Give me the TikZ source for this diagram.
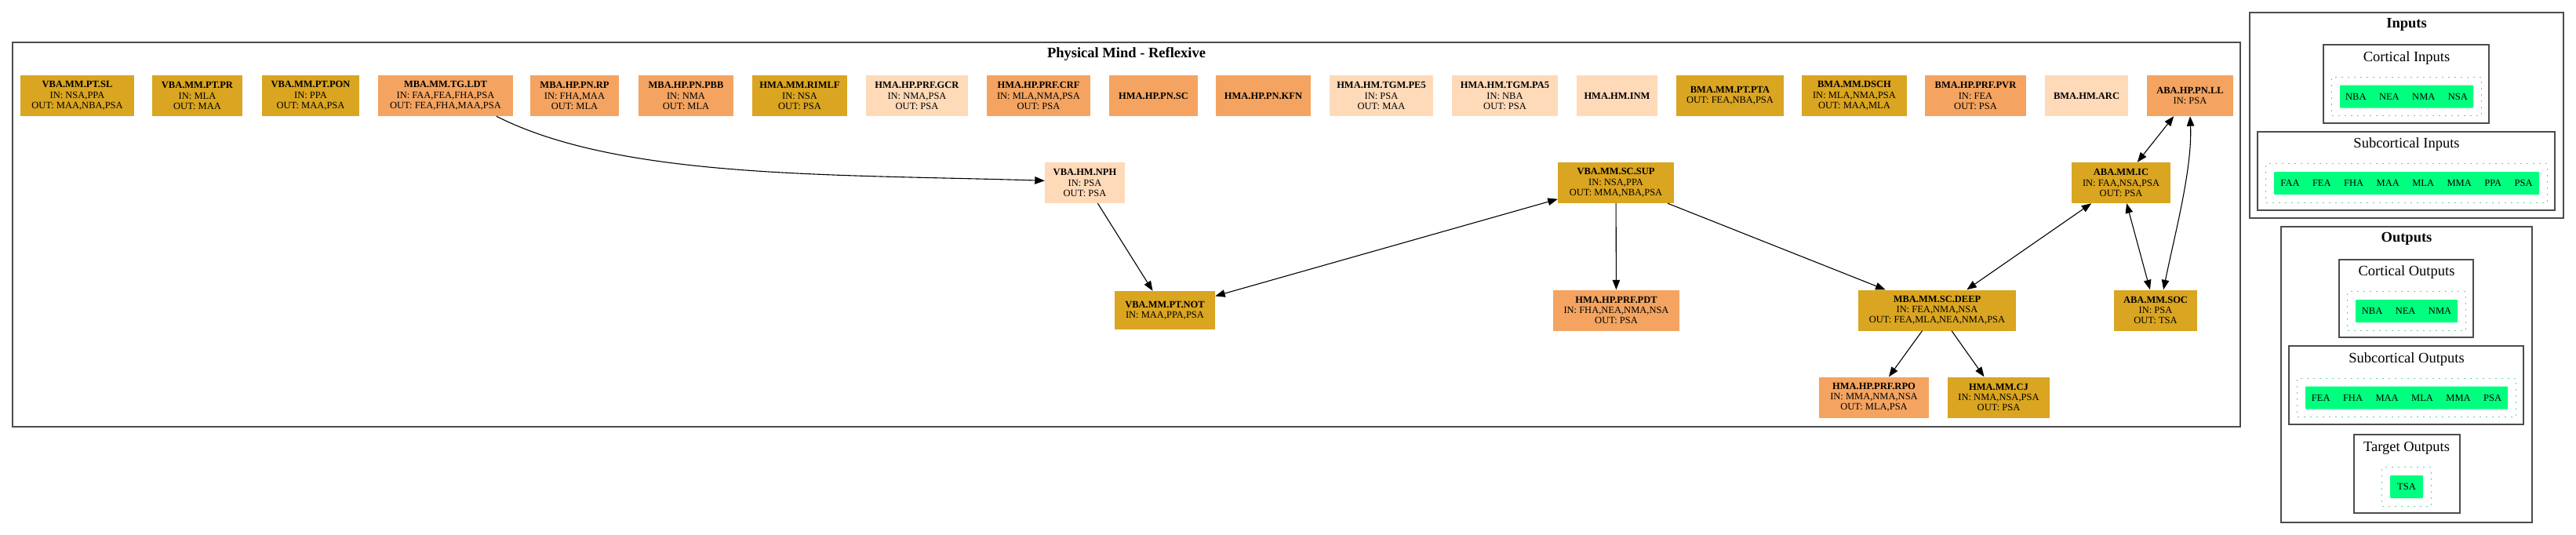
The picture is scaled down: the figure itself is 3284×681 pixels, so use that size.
\documentclass[tikz,border=0pt]{standalone}
\usepackage{fontspec}
\setmainfont{Liberation Serif}
\usetikzlibrary{positioning,calc,arrows.meta,fit}
\definecolor{goldenrod}{RGB}{218,165,32}
\definecolor{sandybrown}{RGB}{244,164,96}
\definecolor{peachpuff}{RGB}{255,218,185}
\definecolor{springgreen}{RGB}{0,255,127}
\definecolor{aquamarine}{RGB}{102,205,170}
\newcommand{\sepgap}{\hspace{16.5pt}}

\begin{document}
\begin{tikzpicture}[x=1pt, y=-1pt, every node/.style={font=\fontsize{12.5}{13.3}\selectfont}, >={Triangle[length=12.5pt,width=9.5pt]}]
            \tikzstyle{area}=[rectangle, align=center, inner sep=0pt, minimum height=52pt]
            \tikzstyle{goldbox}=[area, fill=goldenrod]
            \tikzstyle{sandbox}=[area, fill=sandybrown]
            \tikzstyle{peachbox}=[area, fill=peachpuff]
            \tikzstyle{edge}=[line width=1.1pt]
            \tikzstyle{frame}=[line width=2pt, draw=black!70]
            \tikzstyle{greenbox}=[fill=springgreen, minimum height=29pt, inner sep=0pt, rounded corners=1pt]
            \tikzstyle{dotbox}=[draw=aquamarine, line width=1.3pt, dash pattern=on 2pt off 6pt, inner sep=10pt]
            \tikzstyle{maintitle}=[font=\fontsize{18.5}{22}\selectfont\bfseries, anchor=base]
            \tikzstyle{subtitle}=[font=\fontsize{18.5}{22}\selectfont, anchor=base]

            \useasboundingbox (0,0) rectangle (3284,681);

            % physical mind cluster
            \draw[frame] (16,54) rectangle (2856,544);
            \node[maintitle] (phys) at (1436,73) {Physical Mind - Reflexive};

            \node[goldbox, minimum width=145] (sl) at (98.5,122) {\textbf{VBA.MM.PT.SL}\\IN: NSA,PPA\\OUT: MAA,NBA,PSA};
            \node[goldbox, minimum width=115] (pr) at (251.5,122) {\textbf{VBA.MM.PT.PR}\\IN: MLA\\OUT: MAA};
            \node[goldbox, minimum width=124] (pon) at (396,122) {\textbf{VBA.MM.PT.PON}\\IN: PPA\\OUT: MAA,PSA};
            \node[sandbox, minimum width=172] (ldt) at (568,122) {\textbf{MBA.MM.TG.LDT}\\IN: FAA,FEA,FHA,PSA\\OUT: FEA,FHA,MAA,PSA};
            \node[sandbox, minimum width=113] (rp) at (732.5,122) {\textbf{MBA.HP.PN.RP}\\IN: FHA,MAA\\OUT: MLA};
            \node[sandbox, minimum width=121] (pbb) at (874.5,122) {\textbf{MBA.HP.PN.PBB}\\IN: NMA\\OUT: MLA};
            \node[goldbox, minimum width=121] (rimlf) at (1019.5,122) {\textbf{HMA.MM.RIMLF}\\IN: NSA\\OUT: PSA};
            \node[peachbox, minimum width=130] (gcr) at (1169,122) {\textbf{HMA.HP.PRF.GCR}\\IN: NMA,PSA\\OUT: PSA};
            \node[sandbox, minimum width=132] (crf) at (1324,122) {\textbf{HMA.HP.PRF.CRF}\\IN: MLA,NMA,PSA\\OUT: PSA};
            \node[sandbox, minimum width=113] (sc) at (1470.5,122) {\textbf{HMA.HP.PN.SC}};
            \node[sandbox, minimum width=121] (kfn) at (1610.5,122) {\textbf{HMA.HP.PN.KFN}};
            \node[peachbox, minimum width=132] (pe5) at (1761,122) {\textbf{HMA.HM.TGM.PE5}\\IN: PSA\\OUT: MAA};
            \node[peachbox, minimum width=135] (pa5) at (1918.5,122) {\textbf{HMA.HM.TGM.PA5}\\IN: NBA\\OUT: PSA};
            \node[peachbox, minimum width=103] (inm) at (2061.5,122) {\textbf{HMA.HM.INM}};
            \node[goldbox, minimum width=137] (pta) at (2205.5,122) {\textbf{BMA.MM.PT.PTA}\\OUT: FEA,NBA,PSA};
            \node[goldbox, minimum width=134] (dsch) at (2364,122) {\textbf{BMA.MM.DSCH}\\IN: MLA,NMA,PSA\\OUT: MAA,MLA};
            \node[sandbox, minimum width=129] (pvr) at (2518.5,122) {\textbf{BMA.HP.PRF.PVR}\\IN: FEA\\OUT: PSA};
            \node[peachbox, minimum width=106] (arc) at (2660,122) {\textbf{BMA.HM.ARC}};
            \node[sandbox, minimum width=110] (ll) at (2792,122) {\textbf{ABA.HP.PN.LL}\\IN: PSA};

            \node[peachbox, minimum width=102] (nph) at (1383,233) {\textbf{VBA.HM.NPH}\\IN: PSA\\OUT: PSA};
            \node[goldbox, minimum width=148] (sup) at (2060,233) {\textbf{VBA.MM.SC.SUP}\\IN: NSA,PPA\\OUT: MMA,NBA,PSA};
            \node[goldbox, minimum width=126] (ic) at (2704,233) {\textbf{ABA.MM.IC}\\IN: FAA,NSA,PSA\\OUT: PSA};

            \node[goldbox, minimum width=128, minimum height=49] (not) at (1485,395.5) {\textbf{VBA.MM.PT.NOT}\\IN: MAA,PPA,PSA};
            \node[sandbox, minimum width=161] (pdt) at (2060.5,395.5) {\textbf{HMA.HP.PRF.PDT}\\IN: FHA,NEA,NMA,NSA\\OUT: PSA};
            \node[goldbox, minimum width=201] (deep) at (2469.5,395.5) {\textbf{MBA.MM.SC.DEEP}\\IN: FEA,NMA,NSA\\OUT: FEA,MLA,NEA,NMA,PSA};
            \node[goldbox, minimum width=106] (soc) at (2748,395.5) {\textbf{ABA.MM.SOC}\\IN: PSA\\OUT: TSA};

            \node[sandbox, minimum width=140] (rpo) at (2389,506.5) {\textbf{HMA.HP.PRF.RPO}\\IN: MMA,NMA,NSA\\OUT: MLA,PSA};
            \node[goldbox, minimum width=130] (cj) at (2548,506.5) {\textbf{HMA.MM.CJ}\\IN: NMA,NSA,PSA\\OUT: PSA};

            \draw[edge, ->] (ldt.-22) .. controls (790,228) and (1060,222) .. (nph.177);
            \draw[edge, ->] (nph) -- (not);
            \draw[edge, <->] (not) -- (sup);
            \draw[edge, ->] (sup) -- (pdt);
            \draw[edge, ->] (sup) -- (deep);
            \draw[edge, <->] (deep) -- (ic);
            \draw[edge, <->] (ic) -- (soc);
            \draw[edge, <->] (ic) -- (ll);
            \draw[edge, <->] (soc.69) .. controls +(14,-69) and +(3,67) .. (ll.south);
            \draw[edge, ->] (deep) -- (rpo);
            \draw[edge, ->] (deep) -- (cj);

            % inputs
            \draw[frame] (2868,16) rectangle (3268,278);
            \node[maintitle] (inp) at (3068,35) {Inputs};
            \draw[frame] (2962,57) rectangle (3173,157);
            \node[subtitle] (cinp) at (3068,78) {Cortical Inputs};
            \node[greenbox, minimum width=170] (ci) at (3068,123) {NBA\sepgap NEA\sepgap NMA\sepgap NSA};
            \node[dotbox, fit=(ci)] (cid) {};
            \draw[frame] (2878,168) rectangle (3257,268);
            \node[subtitle] (sinp) at (3068,188) {Subcortical Inputs};
            \node[greenbox, minimum width=338] (si) at (3068,233.5) {FAA\sepgap FEA\sepgap FHA\sepgap MAA\sepgap MLA\sepgap MMA\sepgap PPA\sepgap PSA};
            \node[dotbox, fit=(si)] (sid) {};

            % outputs
            \draw[frame] (2908,289) rectangle (3228,666);
            \node[maintitle] (outp) at (3068,308) {Outputs};
            \draw[frame] (2982,331) rectangle (3153,430);
            \node[subtitle] (coutp) at (3068,351) {Cortical Outputs};
            \node[greenbox, minimum width=130] (co) at (3068,396.5) {NBA\sepgap NEA\sepgap NMA};
            \node[dotbox, fit=(co)] (cod) {};
            \draw[frame] (2918,441) rectangle (3217,541);
            \node[subtitle] (soutp) at (3068,462) {Subcortical Outputs};
            \node[greenbox, minimum width=258] (so) at (3068,507) {FEA\sepgap FHA\sepgap MAA\sepgap MLA\sepgap MMA\sepgap PSA};
            \node[dotbox, fit=(so)] (sod) {};
            \draw[frame] (3001,554) rectangle (3136,654);
            \node[subtitle] (toutp) at (3068,575) {Target Outputs};
            \node[greenbox, minimum width=42] (to) at (3068,620.5) {TSA};
            \node[dotbox, fit=(to)] (tod) {};
        \end{tikzpicture}
\end{document}
